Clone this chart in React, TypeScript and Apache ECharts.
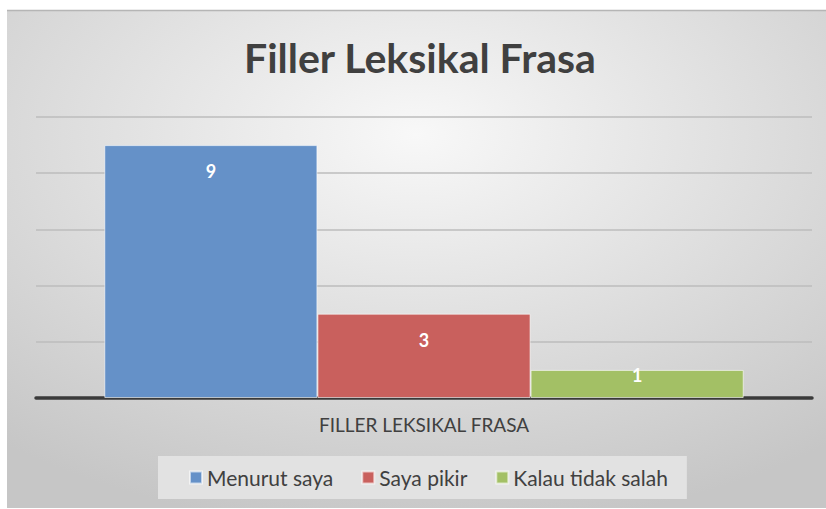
import React, { useEffect, useRef } from "react";
import * as echarts from "echarts";

const categories = ["FILLER LEKSIKAL FRASA"];
const seriesNames = ["Menurut saya", "Saya pikir", "Kalau tidak salah"];
const seriesValues = [[9], [3], [1]];
const seriesColors = ["#6591c8", "#c9605d", "#a3c065"];
const titleText = "Filler Leksikal Frasa";

const FONT = "Lato, 'Open Sans', sans-serif";

export default function App() {
  const ref = useRef<HTMLDivElement>(null);
  useEffect(() => {
    if (!ref.current) return;
    const chart = echarts.init(ref.current, undefined, { renderer: "svg" });
    chart.setOption({
      animation: false,
      backgroundColor: "#ffffff",
      graphic: [
        {
          type: "rect",
          z: -10,
          silent: true,
          shape: { x: 7, y: 10, width: 819, height: 498 },
          style: {
            fill: {
              type: "radial",
              x: 0.5,
              y: 0.25,
              r: 0.8,
              colorStops: [
                { offset: 0, color: "#f8f8f8" },
                { offset: 1, color: "#c6c6c6" },
              ],
            },
          },
        },
        {
          type: "line",
          z: -9,
          silent: true,
          shape: { x1: 7, y1: 10.5, x2: 826, y2: 10.5 },
          style: { stroke: "#b5b5b5", lineWidth: 1.5 },
        },
      ],
      title: {
        text: titleText,
        left: 239,
        top: 32,
        textStyle: {
          fontFamily: FONT,
          fontSize: 41,
          fontWeight: "bold",
          color: "#404040",
        },
      },
      legend: {
        data: seriesNames,
        left: 158,
        top: 456,
        backgroundColor: "#e2e2e2",
        padding: [11, 19, 11, 31],
        itemGap: 28,
        itemWidth: 12,
        itemHeight: 12,
        icon: "rect",
        textStyle: { fontFamily: FONT, fontSize: 21, color: "#404040" },
      },
      grid: { left: 36, right: 14, top: 117, bottom: 111 },
      xAxis: {
        type: "category",
        data: categories,
        axisTick: { show: false },
        axisLine: { lineStyle: { color: "#3a3a3a", width: 3.5 } },
        axisLabel: {
          margin: 17,
          fontFamily: FONT,
          fontSize: 19,
          color: "#404040",
        },
      },
      yAxis: {
        type: "value",
        min: 0,
        max: 10,
        interval: 2,
        axisLabel: { show: false },
        axisLine: { show: false },
        axisTick: { show: false },
        splitLine: { lineStyle: { color: "#bdbdbd", width: 1.5 } },
      },
      series: seriesNames.map((name, i) => ({
        name,
        type: "bar",
        barGap: "0%",
        barCategoryGap: "17.6%",
        itemStyle: {
          color: seriesColors[i],
          borderColor: "rgba(255,255,255,0.6)",
          borderWidth: 1,
        },
        label: {
          show: true,
          position: "insideTop",
          distance: i === 2 ? -4 : 17,
          color: "#ffffff",
          fontFamily: FONT,
          fontWeight: "bold",
          fontSize: 18,
        },
        data: seriesValues[i],
      })),
    });
    return () => chart.dispose();
  }, []);
  return (
    <div
      ref={ref}
      style={{ position: "absolute", left: 0, top: 0, width: 826, height: 509 }}
    />
  );
}
